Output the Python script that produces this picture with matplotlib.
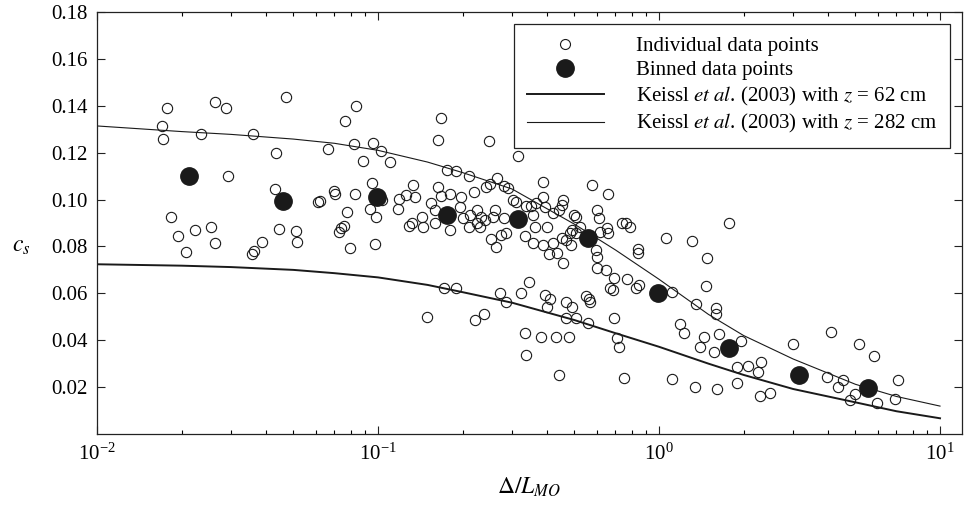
import numpy as np
import matplotlib
matplotlib.use("Agg")
import matplotlib.pyplot as plt
from matplotlib.ticker import LogLocator, NullFormatter

plt.rcParams['font.family'] = ['Liberation Serif', 'DejaVu Serif']
plt.rcParams['mathtext.fontset'] = 'stix'

# individual data points (Delta/L_MO, c_s)
ind_x = [0.0177, 0.0170, 0.0172, 0.0264, 0.0289, 0.0470, 0.0234, 0.0360, 0.0433, 0.0292,
         0.0431, 0.0666, 0.0760, 0.0835, 0.0820, 0.0962, 0.1023, 0.1104, 0.0887, 0.0955,
         0.1190, 0.1180, 0.0938, 0.0986, 0.1034, 0.0826, 0.0774, 0.0699, 0.0701, 0.0614,
         0.0622, 0.0184, 0.0195, 0.0224, 0.0254, 0.0263, 0.0207, 0.0355, 0.0363, 0.0386,
         0.0444, 0.0510, 0.0514, 0.0725, 0.0736, 0.0757, 0.0794, 0.0976,
         0.167, 0.163, 0.249, 0.314, 0.1755, 0.189, 0.211, 0.265, 0.251, 0.242,
         0.280, 0.290, 0.388, 0.578, 0.656, 0.133, 0.126, 0.135, 0.129, 0.132,
         0.144, 0.145, 0.155, 0.159, 0.164, 0.168, 0.159, 0.180, 0.181, 0.198,
         0.196, 0.200, 0.212, 0.220, 0.225, 0.233, 0.225, 0.230, 0.211, 0.240,
         0.260, 0.257, 0.253, 0.264, 0.274, 0.286, 0.280, 0.310, 0.303, 0.336,
         0.350, 0.366, 0.356, 0.362, 0.334, 0.356, 0.385, 0.393, 0.420, 0.398,
         0.385, 0.405, 0.432, 0.420, 0.455, 0.450, 0.440, 0.455, 0.452, 0.467,
         0.482, 0.490, 0.505, 0.500, 0.505, 0.522, 0.485, 0.600, 0.610, 0.596,
         0.604, 0.600, 0.650, 0.667, 0.685, 0.690, 0.653, 0.656, 0.615, 0.740,
         0.760, 0.790, 0.770, 0.840, 0.840, 0.825, 0.850, 1.06, 1.11,
         0.345, 0.323, 0.271, 0.286, 0.172, 0.190, 0.150, 0.222, 0.238, 0.394,
         0.410, 0.400, 0.467, 0.490, 0.467, 0.505, 0.550, 0.565, 0.570, 0.560,
         0.690, 0.710, 0.720, 0.334, 0.380, 0.430, 0.480, 0.440, 0.750, 0.335,
         1.31, 1.78, 1.48, 1.47, 1.35, 1.59, 1.59, 1.19, 1.23, 1.44,
         1.64, 1.40, 1.57, 1.95, 1.89, 2.07, 2.25, 2.30, 1.89, 2.28,
         2.48, 1.11, 1.34, 1.61, 3.00, 4.10, 5.15, 5.80, 3.96, 4.50,
         4.35, 4.80, 5.00, 5.95, 6.90, 7.10]
ind_y = [0.1390, 0.1315, 0.1260, 0.1417, 0.1390, 0.1436, 0.1280, 0.1280, 0.1200, 0.1100,
         0.1046, 0.1214, 0.1334, 0.1400, 0.1237, 0.1242, 0.1208, 0.1159, 0.1166, 0.1069,
         0.1002, 0.0960, 0.0960, 0.0924, 0.0998, 0.1022, 0.0946, 0.1038, 0.1022, 0.0991,
         0.0995, 0.0924, 0.0846, 0.0870, 0.0884, 0.0816, 0.0777, 0.0766, 0.0780, 0.0820,
         0.0873, 0.0867, 0.0818, 0.0863, 0.0880, 0.0886, 0.0795, 0.0810,
         0.1349, 0.1254, 0.1250, 0.1187, 0.1126, 0.1122, 0.1102, 0.1093, 0.1065, 0.1052,
         0.1058, 0.1048, 0.1076, 0.1062, 0.1022, 0.1062, 0.1020, 0.1012, 0.0888, 0.0899,
         0.0927, 0.0882, 0.0984, 0.0955, 0.1055, 0.1015, 0.0899, 0.0870, 0.1022, 0.1012,
         0.0970, 0.0920, 0.0934, 0.1033, 0.0955, 0.0927, 0.0899, 0.0884, 0.0884, 0.0913,
         0.0955, 0.0927, 0.0830, 0.0799, 0.0849, 0.0856, 0.0920, 0.0991, 0.0998, 0.0972,
         0.0972, 0.0984, 0.0934, 0.0884, 0.0844, 0.0813, 0.1012, 0.0970, 0.0941, 0.0882,
         0.0806, 0.0768, 0.0771, 0.0813, 0.0998, 0.0977, 0.0955, 0.0728, 0.0835, 0.0827,
         0.0856, 0.0870, 0.0856, 0.0934, 0.0927, 0.0884, 0.0806, 0.0955, 0.0920, 0.0785,
         0.0756, 0.0707, 0.0699, 0.0621, 0.0614, 0.0664, 0.0877, 0.0856, 0.0863, 0.0899,
         0.0899, 0.0882, 0.0661, 0.0788, 0.0771, 0.0621, 0.0636, 0.0835, 0.0607,
         0.0650, 0.0603, 0.0603, 0.0562, 0.0621, 0.0621, 0.0498, 0.0486, 0.0512, 0.0593,
         0.0576, 0.0543, 0.0564, 0.0543, 0.0493, 0.0493, 0.0589, 0.0574, 0.0562, 0.0475,
         0.0493, 0.0408, 0.0372, 0.0430, 0.0415, 0.0412, 0.0415, 0.0250, 0.0240, 0.0337,
         0.0824, 0.0899, 0.0752, 0.0631, 0.0553, 0.0539, 0.0511, 0.0469, 0.0432, 0.0412,
         0.0425, 0.0370, 0.0348, 0.0398, 0.0287, 0.0290, 0.0266, 0.0306, 0.0219, 0.0162,
         0.0176, 0.0235, 0.0199, 0.0192, 0.0384, 0.0435, 0.0385, 0.0331, 0.0242, 0.0230,
         0.0199, 0.0145, 0.0169, 0.0133, 0.0148, 0.0230]

# binned data points
bin_x = [0.0212, 0.0459, 0.099, 0.176, 0.316, 0.558, 0.992, 1.77, 3.15, 5.56]
bin_y = [0.1100, 0.0994, 0.1011, 0.0934, 0.0917, 0.0836, 0.0603, 0.0368, 0.0250, 0.0198]

# Keissl et al. (2003) curves
curve_x = [0.01, 0.02, 0.03, 0.05, 0.07, 0.1, 0.15, 0.2, 0.3, 0.5, 0.7, 1.0, 1.5, 2.0, 3.0, 5.0, 7.0, 10.0]
curve_62 = [0.0724, 0.0718, 0.0712, 0.0700, 0.0686, 0.0668, 0.0636, 0.0605, 0.0560, 0.0486,
            0.0430, 0.0372, 0.0300, 0.0252, 0.0192, 0.0135, 0.0097, 0.0067]
curve_282 = [0.1314, 0.1290, 0.1278, 0.1258, 0.1240, 0.1210, 0.1160, 0.1115, 0.1045, 0.0895,
             0.0785, 0.0660, 0.0510, 0.0420, 0.0320, 0.0212, 0.0160, 0.0119]

fig = plt.figure(figsize=(9.64, 5.07), dpi=100)
ax = fig.add_axes([0.1006, 0.144, 0.8973, 0.8323])

ax.plot(ind_x, ind_y, 'o', ms=7.4, mfc='none', mec='#1a1a1a', mew=0.8,
        label='Individual data points')
ax.plot(bin_x, bin_y, 'o', ms=12.5, mfc='#1a1a1a', mec='#1a1a1a',
        label='Binned data points')
ax.plot(curve_x, curve_62, '-', color='#1a1a1a', lw=1.4,
        label=r'Keissl $et\ al$. (2003) with $z$ = 62 cm')
ax.plot(curve_x, curve_282, '-', color='#1a1a1a', lw=0.8,
        label=r'Keissl $et\ al$. (2003) with $z$ = 282 cm')

ax.set_xscale('log')
ax.set_xlim(0.01, 11.97)
ax.set_ylim(0, 0.18)
ax.set_yticks(np.arange(0.02, 0.181, 0.02))
ax.set_yticklabels(['%.2f' % v for v in np.arange(0.02, 0.181, 0.02)])
ax.xaxis.set_major_locator(LogLocator(base=10, numticks=10))
ax.xaxis.set_minor_locator(LogLocator(base=10, subs=np.arange(2, 10), numticks=20))
ax.xaxis.set_minor_formatter(NullFormatter())

ax.tick_params(axis='both', which='major', direction='in', top=True, right=True,
               labelsize=15, width=0.8, color='#222222')
ax.tick_params(axis='x', which='major', length=6, pad=7)
ax.tick_params(axis='y', which='major', length=6, pad=7)
ax.tick_params(axis='x', which='minor', direction='in', top=True, length=3, width=0.8)
for s in ax.spines.values():
    s.set_linewidth(0.9)
    s.set_color('#222222')

ax.set_xlabel(r'$\mathit{\Delta}/L_{MO}$', fontsize=17)
ax.xaxis.set_label_coords(0.5, -0.100)
ax.set_ylabel(r'$c_s$', fontsize=17, rotation=0, ha='center', va='center')
ax.yaxis.set_label_coords(-0.088, 0.445)

leg = ax.legend(loc='upper right', bbox_to_anchor=(0.986, 0.972), borderaxespad=0,
                fontsize=15, frameon=True, fancybox=False, framealpha=1,
                edgecolor='#222222', handlelength=3.7, handletextpad=1.55,
                labelspacing=0.22, borderpad=0.6, markerscale=1.0)
leg.get_frame().set_linewidth(0.9)
leg.legend_handles[0].set_markersize(7.2)

fig.savefig('out.png', dpi=100)
